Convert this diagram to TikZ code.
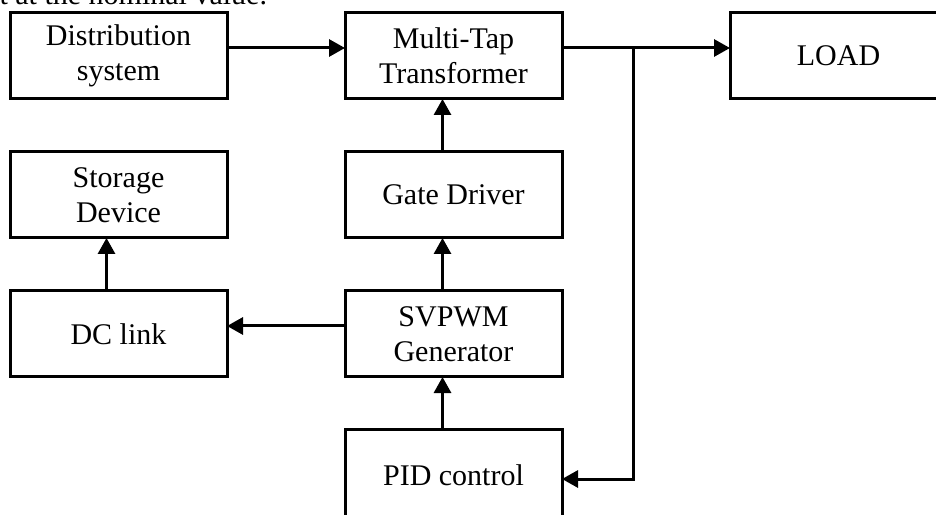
\documentclass[tikz,border=0pt]{standalone}
\usepackage{fontspec}
\setmainfont{Liberation Serif}
\usetikzlibrary{positioning, arrows.meta}
\tikzset{
    blockbox/.style={rectangle, draw, line width=3pt, outer sep=0pt, inner sep=0pt, minimum width=217pt, minimum height=86pt, align=center, font=\fontsize{30}{35}\selectfont},
    flow/.style={line width=3pt, -{Triangle[length=16pt, width=17pt]}}
}

\begin{document}
\begin{tikzpicture}[x=1pt, y=1pt, node distance=53pt and 118pt]
            \useasboundingbox (0,0) rectangle (936,514);
            \clip (0,0) rectangle (936,514);
            \node[anchor=base west, font=\fontsize{30}{35}\selectfont] (caption) at (-4,509) {t at the nominal value.};
            \node[blockbox] (dist) at (118.5,458) {Distribution\\system};
            \node[blockbox, right=of dist] (mtt) {Multi-Tap\\Transformer};
            \node[blockbox, right=168pt of mtt] (load) {LOAD};
            \node[blockbox, below=of mtt] (gate) {Gate Driver};
            \node[blockbox, below=of gate] (svpwm) {SVPWM\\Generator};
            \node[blockbox, below=52pt of svpwm, minimum height=92pt] (pid) {PID control};
            \node[blockbox, left=of svpwm] (dclink) {DC link};
            \node[blockbox, above=of dclink] (storage) {Storage\\Device};
            \coordinate (tap) at ([xshift=71pt, yshift=8pt]mtt.east);
            \draw[flow] ([yshift=8pt]dist.east) -- ([yshift=8pt]mtt.west);
            \draw[flow] ([yshift=8pt]mtt.east) -- ([yshift=8pt]load.west);
            \draw[flow] ([xshift=-11pt]gate.north) -- ([xshift=-11pt]mtt.south);
            \draw[flow] ([xshift=-11pt]svpwm.north) -- ([xshift=-11pt]gate.south);
            \draw[flow] ([xshift=-11pt]pid.north) -- ([xshift=-11pt]svpwm.south);
            \draw[flow] ([yshift=8pt]svpwm.west) -- ([yshift=8pt]dclink.east);
            \draw[flow] ([xshift=-12pt]dclink.north) -- ([xshift=-12pt]storage.south);
            \draw[flow] (tap) |- ([yshift=-4pt]pid.east);
        \end{tikzpicture}
\end{document}
